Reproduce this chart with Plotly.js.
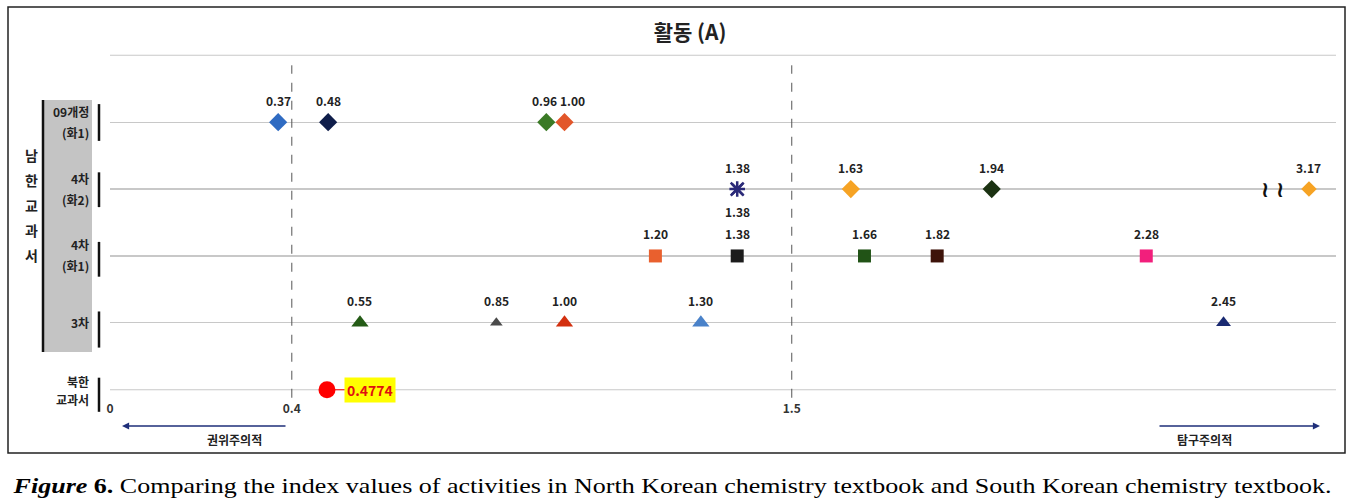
<!DOCTYPE html>
<html>
<head>
<meta charset="utf-8">
<script src="https://cdn.plot.ly/plotly-3.0.1.min.js"></script>
<style>html,body{margin:0;padding:0;background:#fff;}#chart{width:1368px;height:500px;}</style>
</head>
<body>
<div id="chart"></div>
<script>
// ---------- data ----------
const rowNames = ['북한<br>교과서', '3차', '4차<br>(화1)', '4차<br>(화2)', '09개정<br>(화1)'];
const rev09Values = [0.37, 0.48, 0.96, 1.00];          // 09개정 (화1)
const ch4h2Values = [1.38, 1.38, 1.63, 1.94, 3.17];    // 4차 (화2)
const ch4h1Values = [1.20, 1.38, 1.66, 1.82, 2.28];    // 4차 (화1)
const ch3Values   = [0.55, 0.85, 1.00, 1.30, 2.45];    // 3차
const nkValues    = [0.4774];                          // 북한 교과서
const tickValues  = [0, 0.4, 1.5];
const tickLabels  = ['0', '0.4', '1.5'];
const titleText   = '활동 (A)';
const leftLabel   = '권위주의적';
const rightLabel  = '탐구주의적';
const groupLabel  = ['남', '한', '교', '과', '서'];
const caption     = '<b><i>Figure</i> 6.</b> Comparing the index values of activities in North Korean chemistry textbook and South Korean chemistry textbook.';

// ---------- styles ----------
const rev09Colors = ['#2f6bc2', '#0f1d4a', '#3b7a26', '#e2562a'];
const ch4h2Colors = ['#2b2a78', '#2b2a78', '#f6a324', '#1b3212', '#f6a324'];
const ch4h1Colors = ['#e9602e', '#1c1c1c', '#215316', '#3e130a', '#f21f7c'];
const ch3Colors   = ['#245b16', '#4a4a4a', '#d3300f', '#4a82c9', '#1a2a72'];
const ch4h2Symbols = ['x-thin-open', 'asterisk-open', 'diamond', 'diamond', 'diamond'];
const ch3Sizes = [15, 11, 15, 15, 13];
const BREAK_AT = 2.55;              // axis break (values beyond are compressed)
const BREAK_SHOWN = BREAK_AT + 0.088;
const disp = v => v > BREAK_AT ? BREAK_SHOWN : v;

const L = 110, T = 55, W = 1226, H = 335;
const NROWS = 5;                    // y range [0, 5]
const YPAD = 0.004;
const px = x => (x - L) / W;        // pixel -> paper x
const py = y => (T + H - y) / H;    // pixel -> paper y
const ry = v => (v + YPAD) / (NROWS + 2 * YPAD);  // data y -> paper y (unclipped shapes)

const traces = [];
const ann = [];
const KFONT = 'Noto Sans CJK KR, Noto Sans, sans-serif';
const labelFont = {family: KFONT, size: 12, color: '#222'};

function addRow(values, row, colors, symbols, sizes) {
  const xs = values.map(disp);
  traces.push({
    type: 'scatter', mode: 'markers', x: xs, y: values.map(() => row),
    marker: {
      symbol: symbols, size: sizes, color: colors, opacity: 1,
      line: {color: colors, width: symbols.map(s => s.indexOf('open') >= 0 ? 2.5 : 0)}
    },
    hoverinfo: 'x', showlegend: false, cliponaxis: false
  });
  values.forEach((v, i) => {
    const dup = values.slice(0, i).indexOf(v) >= 0;
    // nudge labels of close (but distinct) neighbours apart
    let xs_ = 0;
    if (i > 0 && values[i - 1] !== v && v - values[i - 1] < 0.06) xs_ = 8;
    if (i < values.length - 1 && values[i + 1] !== v && values[i + 1] - v < 0.06) xs_ = -2;
    ann.push({x: xs[i], y: row, xref: 'x', yref: 'y', text: '<b>' + v.toFixed(2) + '</b>',
      showarrow: false, yshift: dup ? -22 : 22, xshift: xs_, font: labelFont});
  });
}

addRow(rev09Values, 4, rev09Colors, rev09Values.map(() => 'diamond'), rev09Values.map(() => 14));
addRow(ch4h2Values, 3, ch4h2Colors, ch4h2Symbols, [13, 13, 14, 14, 12]);
addRow(ch4h1Values, 2, ch4h1Colors, ch4h1Values.map(() => 'square'), ch4h1Values.map(() => 13));
addRow(ch3Values, 1, ch3Colors, ch3Values.map(() => 'triangle-up'), ch3Sizes);

// North Korea
traces.push({type: 'scatter', mode: 'markers', x: nkValues, y: [0],
  marker: {symbol: 'circle', size: 17, color: '#ff0000', opacity: 1}, showlegend: false, cliponaxis: false});
ann.push({x: nkValues[0], y: 0, xref: 'x', yref: 'y', text: '<b>' + nkValues[0] + '</b>',
  showarrow: true, arrowhead: 0, arrowcolor: '#ff0000', arrowwidth: 1.2, ax: 43, ay: 0, standoff: 8,
  bgcolor: '#ffff00', borderpad: 2,
  font: {family: KFONT, size: 14, color: '#e01010'}});

// axis-break squiggles
ann.push({x: BREAK_AT - 0.008, y: 3, xref: 'x', yref: 'y', text: '<b>≀</b>', showarrow: false,
  font: {family: 'DejaVu Sans', size: 22, color: '#111'}});
ann.push({x: BREAK_AT + 0.024, y: 3, xref: 'x', yref: 'y', text: '<b>≀</b>', showarrow: false,
  font: {family: 'DejaVu Sans', size: 22, color: '#111'}});

// row labels (each line placed separately for wider line spacing)
const rowFont = {family: KFONT, size: 12, color: '#222'};
rowNames.forEach((name, r) => {
  const lines = name.split('<br>');
  const shifts = lines.length === 1 ? [0] : (r === 0 ? [8, -10] : [11, -10]);
  lines.forEach((ln, k) => {
    ann.push({x: px(91), y: r, xref: 'paper', yref: 'y', text: '<b>' + ln + '</b>', showarrow: false,
      xanchor: 'right', align: 'right', yshift: shifts[k], font: rowFont});
  });
});
// vertical group label
groupLabel.forEach((c, i) => {
  ann.push({x: px(23), y: py(155 + 25 * i), xref: 'paper', yref: 'paper', yanchor: 'middle',
    text: '<b>' + c + '</b>', showarrow: false, font: {family: KFONT, size: 14, color: '#222'}});
});

// arrows and their labels
const arrowColor = '#1f2f7a';
ann.push({x: px(122), y: py(426), xref: 'paper', yref: 'paper', ax: 165, ay: 0, axref: 'pixel', ayref: 'pixel',
  showarrow: true, arrowhead: 2, arrowsize: 1.1, arrowwidth: 1.3, arrowcolor: arrowColor, text: ''});
ann.push({x: px(1320), y: py(426), xref: 'paper', yref: 'paper', ax: -162, ay: 0, axref: 'pixel', ayref: 'pixel',
  showarrow: true, arrowhead: 2, arrowsize: 1.1, arrowwidth: 1.3, arrowcolor: arrowColor, text: ''});
ann.push({x: px(205), y: py(439), xref: 'paper', yref: 'paper', yanchor: 'middle', text: '<b>' + leftLabel + '</b>', showarrow: false,
  font: {family: KFONT, size: 12, color: '#222'}});
ann.push({x: px(1234), y: py(439), xref: 'paper', yref: 'paper', yanchor: 'middle', text: '<b>' + rightLabel + '</b>', showarrow: false,
  font: {family: KFONT, size: 12, color: '#222'}});

// caption
ann.push({x: px(10), y: py(485), xref: 'paper', yref: 'paper', xanchor: 'left', yanchor: 'middle', text: caption, showarrow: false,
  font: {family: 'Liberation Serif, Times New Roman, serif', size: 22, color: '#000'}});

const shapes = [
  // outer frame
  {type: 'rect', xref: 'paper', yref: 'paper', x0: px(8), x1: px(1345), y0: py(453), y1: py(7),
    line: {color: '#222', width: 1.5}},
  // grey group box
  {type: 'rect', xref: 'paper', yref: 'paper', x0: px(43), x1: px(92), y0: py(352), y1: py(100),
    fillcolor: '#c4c4c4', line: {width: 0}, layer: 'below'},
  {type: 'line', xref: 'paper', yref: 'paper', x0: px(43), x1: px(43), y0: py(352), y1: py(100),
    line: {color: '#111', width: 2.5}},
  // dashed threshold lines
  {type: 'line', xref: 'x', yref: 'paper', x0: tickValues[1], x1: tickValues[1], y0: ry(-0.12), y1: ry(4.85),
    line: {color: '#555', width: 1, dash: 'dash'}},
  {type: 'line', xref: 'x', yref: 'paper', x0: tickValues[2], x1: tickValues[2], y0: ry(-0.12), y1: ry(4.85),
    line: {color: '#555', width: 1, dash: 'dash'}}
];
// outer row lines (bottom row and top border), which the grid omits at the range edges
[0, NROWS].forEach(r => {
  shapes.push({type: 'line', xref: 'paper', yref: 'paper', x0: 0, x1: 1, y0: ry(r), y1: ry(r),
    line: {color: '#c8c8c8', width: 1.2}, layer: 'below'});
});
// row bars beside the row labels
[[0, 0.18, -0.33], [1, 0.17, -0.37], [2, 0.21, -0.31], [3, 0.25, -0.27], [4, 0.27, -0.28]].forEach(([r, up, dn]) => {
  shapes.push({type: 'line', xref: 'paper', yref: 'paper', x0: px(99), x1: px(99), y0: ry(r + dn), y1: ry(r + up),
    line: {color: '#111', width: 2.5}});
});

const layout = {
  width: 1368, height: 500,
  margin: {l: L, r: 1368 - L - W, t: T, b: 500 - T - H},
  paper_bgcolor: '#fff', plot_bgcolor: '#fff',
  title: {text: '<b>' + titleText + '</b>', xref: 'paper', x: px(690), yref: 'container', y: 1 - 33 / 500,
    xanchor: 'center', yanchor: 'middle',
    font: {family: KFONT, size: 21, color: '#222'}},
  xaxis: {range: [0, W / 454.5], showgrid: false, zeroline: false, showline: false,
    tickvals: tickValues, ticktext: tickLabels, ticks: 'outside', ticklen: 8, tickcolor: 'rgba(0,0,0,0)',
    tickfont: {family: KFONT, size: 12, color: '#333', weight: 'bold'}, fixedrange: true},
  yaxis: {range: [-YPAD, NROWS + YPAD], tickvals: [0, 1, 2, 3, 4, 5], showticklabels: false, showgrid: true,
    gridcolor: '#c8c8c8', gridwidth: 1.2, zeroline: false, showline: false, fixedrange: true},
  annotations: ann, shapes: shapes, showlegend: false
};

Plotly.newPlot('chart', traces, layout, {staticPlot: true}).then(() => {
  // stretch the caption horizontally (from its left edge) to the reference width
  document.querySelectorAll('.annotation-text').forEach(t => {
    if (t.textContent.indexOf('Figure') === 0) {
      const bb = t.getBBox();
      const s = 1320 / bb.width;
      const prev = t.getAttribute('transform') || '';
      t.setAttribute('transform', prev + ' translate(' + (bb.x * (1 - s)) + ',0) scale(' + s + ',1)');
    }
  });
});
</script>
</body>
</html>
